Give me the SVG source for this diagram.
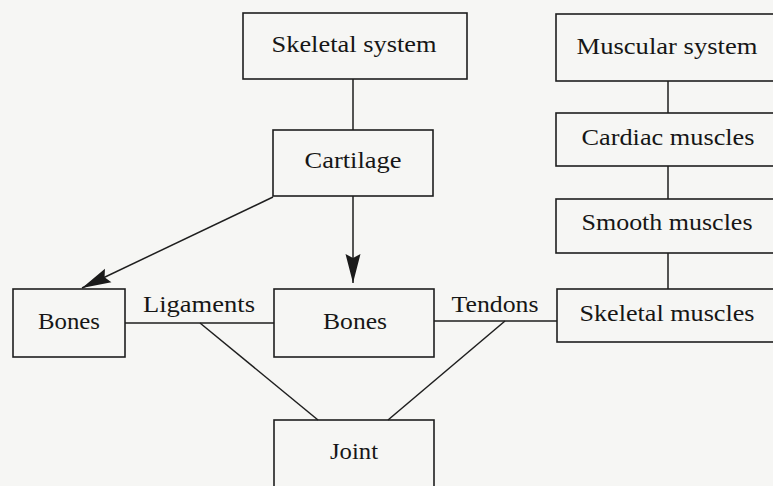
<svg xmlns="http://www.w3.org/2000/svg" width="773" height="486" viewBox="0 0 773 486">
<style>
.box{fill:none;stroke:#1e1e1e;stroke-width:1.6}
.ln{fill:none;stroke:#1e1e1e;stroke-width:1.5}
.t{font-family:"Liberation Serif","Times New Roman",serif;font-size:23.5px;fill:#161616;text-anchor:middle}
</style>
<defs>
<marker id="ah" viewBox="-30 -9 32 18" markerWidth="32" markerHeight="18" refX="0" refY="0" orient="auto" markerUnits="userSpaceOnUse">
<path d="M0,0 L-29,-7.5 L-25,0 L-29,7.5 Z" fill="#1a1a1a"/>
</marker>
</defs>
<rect width="773" height="486" fill="#f6f6f4"/>
<g id="connectors">
<line class="ln" x1="353" y1="79" x2="353" y2="130"/>
<line class="ln" x1="273" y1="197" x2="82" y2="288" marker-end="url(#ah)"/>
<line class="ln" x1="353" y1="196" x2="353" y2="283" marker-end="url(#ah)"/>
<line class="ln" x1="125" y1="323" x2="274" y2="323"/>
<line class="ln" x1="434" y1="321" x2="557" y2="321"/>
<line class="ln" x1="200" y1="323" x2="318" y2="420"/>
<line class="ln" x1="505" y1="321" x2="388" y2="420"/>
<line class="ln" x1="668" y1="81" x2="668" y2="113"/>
<line class="ln" x1="668" y1="166" x2="668" y2="199"/>
<line class="ln" x1="668" y1="253" x2="668" y2="289"/>
<text class="t" x="199" y="312" textLength="112" lengthAdjust="spacingAndGlyphs">Ligaments</text>
<text class="t" x="495" y="312" textLength="87" lengthAdjust="spacingAndGlyphs">Tendons</text>
</g>
<g id="skeletal-system">
<rect class="box" x="243" y="13" width="224" height="66"/>
<text class="t" x="354" y="52" textLength="165" lengthAdjust="spacingAndGlyphs">Skeletal system</text>
</g>
<g id="cartilage">
<rect class="box" x="273" y="130" width="160" height="66"/>
<text class="t" x="353" y="168" textLength="97" lengthAdjust="spacingAndGlyphs">Cartilage</text>
</g>
<g id="bones-left">
<rect class="box" x="13" y="289" width="112" height="68"/>
<text class="t" x="69" y="329" textLength="62" lengthAdjust="spacingAndGlyphs">Bones</text>
</g>
<g id="bones-right">
<rect class="box" x="274" y="289" width="160" height="68"/>
<text class="t" x="355" y="329" textLength="64" lengthAdjust="spacingAndGlyphs">Bones</text>
</g>
<g id="joint">
<rect class="box" x="274" y="420" width="160" height="90"/>
<text class="t" x="354" y="459" textLength="48" lengthAdjust="spacingAndGlyphs">Joint</text>
</g>
<g id="muscular-system">
<rect class="box" x="556" y="14" width="240" height="67"/>
<text class="t" x="667" y="54" textLength="181" lengthAdjust="spacingAndGlyphs">Muscular system</text>
</g>
<g id="cardiac-muscles">
<rect class="box" x="556" y="113" width="240" height="53"/>
<text class="t" x="668" y="145" textLength="173" lengthAdjust="spacingAndGlyphs">Cardiac muscles</text>
</g>
<g id="smooth-muscles">
<rect class="box" x="556" y="199" width="240" height="54"/>
<text class="t" x="667" y="230" textLength="171" lengthAdjust="spacingAndGlyphs">Smooth muscles</text>
</g>
<g id="skeletal-muscles">
<rect class="box" x="557" y="289" width="240" height="53"/>
<text class="t" x="667" y="321" textLength="175" lengthAdjust="spacingAndGlyphs">Skeletal muscles</text>
</g>
</svg>
